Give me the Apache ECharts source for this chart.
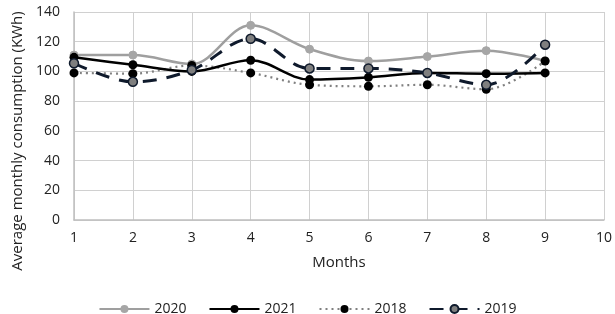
<!DOCTYPE html>
<html><head><meta charset="utf-8">
<script src="https://cdn.jsdelivr.net/npm/echarts@6/dist/echarts.min.js"></script>
<style>html,body{margin:0;padding:0;background:#fff}#c{width:615px;height:314px}</style>
</head><body><div id="c"></div>
<script>
const months = [1, 2, 3, 4, 5, 6, 7, 8, 9];
const s2020 = [111, 111, 105, 131, 115, 107, 110, 114, 107];
const s2021 = [109.5, 104.5, 100, 107.5, 94.5, 96, 99, 98.5, 99];
const s2018 = [99, 98.5, 104, 99, 91, 90, 91, 88, 107];
const s2019 = [105.5, 93, 101, 122, 102, 102, 99, 91, 118];
const yTicks = [0, 20, 40, 60, 80, 100, 120, 140];

const pts = arr => months.map((m, i) => [m, arr[i]]);
const font = '"Open Sans", "Liberation Sans", sans-serif';
const chart = echarts.init(document.getElementById('c'));
chart.setOption({
  animation: false,
  textStyle: { fontFamily: font },
  grid: { left: 74, right: 8, top: 12, bottom: 94 },
  graphic: [{
    type: 'text', x: 18, y: 141, rotation: Math.PI / 2,
    style: { text: 'Average monthly consumption (KWh)', fontSize: 15, fontFamily: font, fill: '#222', align: 'center', verticalAlign: 'middle' }
  }],
  legend: {
    top: 297, left: 'center', itemWidth: 50, itemHeight: 10, itemGap: 22,
    textStyle: { fontSize: 14, color: '#222', fontFamily: font },
    data: ['2020', '2021', '2018', '2019']
  },
  xAxis: {
    type: 'value', min: 1, max: 10, interval: 1,
    name: 'Months', nameLocation: 'middle', nameGap: 35,
    nameTextStyle: { fontSize: 15, color: '#222' },
    axisLine: { show: true, lineStyle: { color: '#bfbfbf', width: 1.5 } },
    axisTick: { show: false },
    axisLabel: { fontSize: 14, color: '#222', margin: 11 },
    splitLine: { show: true, lineStyle: { color: '#d0d0d0', width: 1 } }
  },
  yAxis: {
    type: 'value', min: 0, max: 140, interval: 20,
    axisLine: { show: true, lineStyle: { color: '#bfbfbf', width: 1.5 } },
    axisTick: { show: false },
    axisLabel: { fontSize: 14, color: '#222', margin: 14, formatter: v => yTicks.includes(v) ? String(v) : '' },
    splitLine: { show: true, lineStyle: { color: '#d0d0d0', width: 1 } }
  },
  series: [
    { name: '2020', type: 'line', smooth: 0.35, data: pts(s2020), symbol: 'circle', symbolSize: 8,
      lineStyle: { color: '#9f9f9f', width: 2.5 }, itemStyle: { color: '#a6a6a6', borderColor: '#a6a6a6' }, z: 2 },
    { name: '2021', type: 'line', smooth: 0.35, data: pts(s2021), symbol: 'circle', symbolSize: 9,
      lineStyle: { color: '#000', width: 2.5 }, itemStyle: { color: '#000' }, z: 3 },
    { name: '2018', type: 'line', smooth: 0.35, data: pts(s2018), symbol: 'circle', symbolSize: 9,
      lineStyle: { color: '#808080', width: 2.2, type: [2, 4] }, itemStyle: { color: '#000' }, z: 2 },
    { name: '2019', type: 'line', smooth: 0.35, data: pts(s2019), symbol: 'circle', symbolSize: 9,
      lineStyle: { color: '#0f1a2c', width: 3, type: [14, 10] }, itemStyle: { color: '#7f7f7f', borderColor: '#0f1a2c', borderWidth: 1.5 }, z: 4 }
  ]
});
</script></body></html>
